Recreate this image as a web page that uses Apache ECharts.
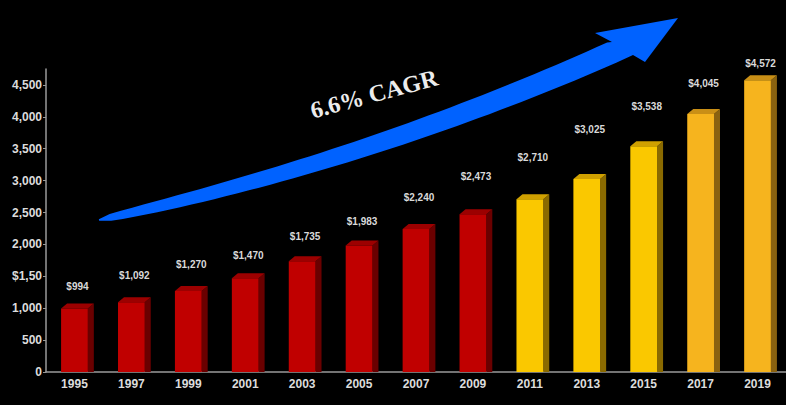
<!DOCTYPE html>
<html>
<head>
<meta charset="utf-8">
<title>Revenue growth 1995–2019</title>
<script src="https://cdn.jsdelivr.net/npm/echarts@6/dist/echarts.min.js"></script>
<style>
  html, body { margin: 0; padding: 0; background: #000; }
  #chart { width: 786px; height: 405px; }
</style>
</head>
<body>
<div id="chart"></div>
<script>
// ---- data ----
const years = ['1995', '1997', '1999', '2001', '2003', '2005', '2007', '2009', '2011', '2013', '2015', '2017', '2019'];
const revenue = [994, 1092, 1270, 1470, 1735, 1983, 2240, 2473, 2710, 3025, 3538, 4045, 4572];
const yTickValues = [0, 500, 1000, 1500, 2000, 2500, 3000, 3500, 4000, 4500];
const yTickLabels = ['0', '500', '1,000', '$1,50', '2,000', '2,500', '3,000', '3,500', '4,000', '4,500'];
const cagrText = '6.6% CAGR';

// ---- styling ----
// colour tier of each bar: 0 = historical red, 1 = yellow, 2 = amber
const barTier = [0, 0, 0, 0, 0, 0, 0, 0, 1, 1, 1, 2, 2];
const tiers = [
  { front: '#c00000', top: '#9c0000', side: '#6a0000' },
  { front: '#fac800', top: '#cfa000', side: '#8a6a00' },
  { front: '#f6b41e', top: '#c98f16', side: '#8a6210' }
];
// how far (px) each value label floats above its bar
const labelLift = [22, 27, 26, 23, 25, 24, 32, 38, 42, 50, 40, 30, 17];

const fmtMoney = v => '$' + v.toLocaleString('en-US');

function renderBar(params, api) {
  const i = params.dataIndex;
  const top = api.coord([api.value(0), api.value(1)]);
  const base = api.coord([api.value(0), 0]);
  const band = api.size([1, 0])[0];
  const w = band * 0.47;
  const dx = 6, dy = 5;
  const x0 = top[0] - w / 2, x1 = top[0] + w / 2;
  const yT = top[1], yB = base[1];
  const c = tiers[barTier[i]];
  return {
    type: 'group',
    children: [
      { type: 'polygon', shape: { points: [[x1, yT], [x1 + dx, yT - dy], [x1 + dx, yB], [x1, yB]] }, style: { fill: c.side } },
      { type: 'polygon', shape: { points: [[x0, yT], [x0 + dx, yT - dy], [x1 + dx, yT - dy], [x1, yT]] }, style: { fill: c.top } },
      { type: 'rect', shape: { x: x0, y: yT, width: w, height: yB - yT }, style: { fill: c.front } },
      {
        type: 'text',
        style: {
          text: fmtMoney(api.value(1)),
          x: top[0] + 3, y: yT - labelLift[i],
          align: 'center', verticalAlign: 'middle',
          fill: '#d9d9d9',
          font: 'bold 10px "Liberation Sans", Arial, sans-serif'
        }
      }
    ]
  };
}

// tapered growth arrow: quadratic curve body widening toward the head
function arrowPoints() {
  const P0 = [99, 220], P1 = [374, 159.5], P2 = [622, 48];
  const N = 48;
  const upper = [], lower = [];
  for (let k = 0; k <= N; k++) {
    const t = k / N, u = 1 - t;
    const bx = u * u * P0[0] + 2 * u * t * P1[0] + t * t * P2[0];
    const by = u * u * P0[1] + 2 * u * t * P1[1] + t * t * P2[1];
    const tx = 2 * u * (P1[0] - P0[0]) + 2 * t * (P2[0] - P1[0]);
    const ty = 2 * u * (P1[1] - P0[1]) + 2 * t * (P2[1] - P1[1]);
    const len = Math.hypot(tx, ty);
    const nx = -ty / len, ny = tx / len;
    const hw = (1.5 + 21 * Math.pow(t, 0.35)) / 2;
    upper.push([bx - nx * hw, by - ny * hw]);
    lower.push([bx + nx * hw, by + ny * hw]);
  }
  upper[N] = [612, 42];
  lower[N] = [633, 55];
  const head = [[595, 33], [678, 18], [645, 62]];
  return upper.concat(head, lower.reverse());
}

const chart = echarts.init(document.getElementById('chart'), null, { renderer: 'svg' });

chart.setOption({
  backgroundColor: '#000000',
  animation: false,
  grid: { left: 46, right: 0, top: 69, bottom: 33 },
  xAxis: {
    type: 'category',
    data: years,
    axisLine: { lineStyle: { color: '#9a9a9a', width: 1.5 } },
    axisTick: { show: false },
    axisLabel: {
      color: '#dcdcdc', fontSize: 12, fontWeight: 'bold',
      fontFamily: '"Liberation Sans", Arial, sans-serif', margin: 6
    }
  },
  yAxis: {
    type: 'value',
    min: 0, max: 4750,
    splitLine: { show: false },
    axisLine: { show: true, lineStyle: { color: '#9a9a9a', width: 1.5 } },
    axisTick: { show: true, length: 3, customValues: yTickValues, lineStyle: { color: '#9a9a9a' } },
    axisLabel: {
      customValues: yTickValues,
      formatter: v => yTickLabels[yTickValues.indexOf(v)] ?? '',
      color: '#dcdcdc', fontSize: 12, fontWeight: 'bold',
      fontFamily: '"Liberation Sans", Arial, sans-serif', margin: 4
    }
  },
  series: [{
    type: 'custom',
    renderItem: renderBar,
    encode: { x: 0, y: 1 },
    data: revenue.map((v, i) => [i, v])
  }],
  graphic: [
    {
      type: 'polygon',
      shape: { points: arrowPoints() },
      style: { fill: '#0062ff' },
      z: 10
    },
    {
      type: 'text',
      x: 374, y: 94,
      rotation: 15 * Math.PI / 180,
      style: {
        text: cagrText,
        font: 'bold 24px "Liberation Serif", "Times New Roman", serif',
        fill: '#ececec',
        align: 'center', verticalAlign: 'middle'
      },
      z: 11
    }
  ]
});
</script>
</body>
</html>
